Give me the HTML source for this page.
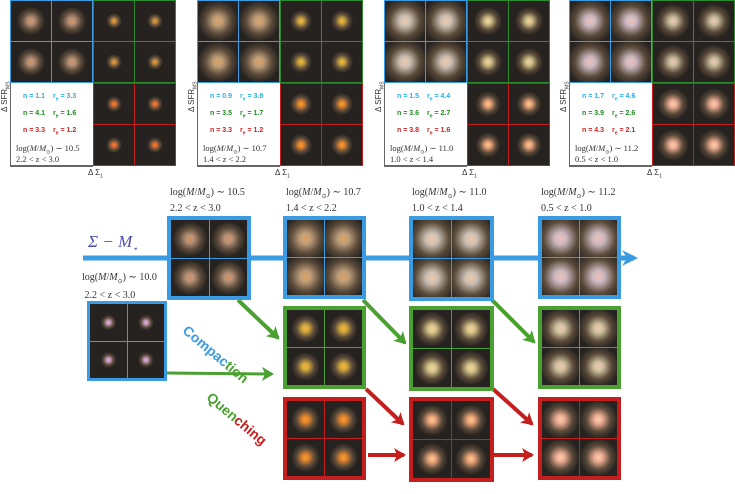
<!DOCTYPE html>
<html><head><meta charset="utf-8"><style>
body{margin:0;width:735px;height:494px;background:#fff;position:relative;overflow:hidden;font-family:"Liberation Sans",sans-serif}
.abs{position:absolute}
.cell{position:absolute;background:#25221f;overflow:hidden}
.serif{font-family:"Liberation Serif",serif;font-size:10px;color:#333;line-height:12px;white-space:nowrap}
.ylab{font-size:8px;color:#333;transform:rotate(-90deg);transform-origin:left top;white-space:nowrap}
.stat{font-size:7px;font-weight:bold;white-space:nowrap}
</style></head><body>
<svg id="arrows" class="abs" style="left:0;top:0" width="735" height="494">
<defs>
<marker id="mb" markerWidth="18" markerHeight="18" refX="12" refY="9" orient="auto" markerUnits="userSpaceOnUse"><path d="M0,1 L16,9 L0,17 L5,9 Z" fill="#3a9be2"/></marker>
<marker id="mg" markerWidth="14" markerHeight="14" refX="10" refY="7" orient="auto" markerUnits="userSpaceOnUse"><path d="M0,0 L12,7 L0,14 L3,7 Z" fill="#4aa030"/></marker>
<marker id="mr" markerWidth="14" markerHeight="14" refX="10" refY="7" orient="auto" markerUnits="userSpaceOnUse"><path d="M0,0 L12,7 L0,14 L3,7 Z" fill="#c41e1e"/></marker>
</defs>
<line x1="83" y1="258" x2="634" y2="258" stroke="#3a9be2" stroke-width="5" marker-end="url(#mb)"/>
<line x1="238" y1="300" x2="278" y2="338" stroke="#4aa030" stroke-width="4" marker-end="url(#mg)"/>
<line x1="363" y1="300" x2="405" y2="343" stroke="#4aa030" stroke-width="4" marker-end="url(#mg)"/>
<line x1="492" y1="300" x2="534" y2="342" stroke="#4aa030" stroke-width="4" marker-end="url(#mg)"/>
<line x1="166" y1="373" x2="272" y2="374" stroke="#4aa030" stroke-width="3" marker-end="url(#mg)"/>
<line x1="366" y1="389" x2="403" y2="424" stroke="#c41e1e" stroke-width="4" marker-end="url(#mr)"/>
<line x1="493" y1="389" x2="532" y2="424" stroke="#c41e1e" stroke-width="4" marker-end="url(#mr)"/>
<line x1="368" y1="455" x2="404" y2="455" stroke="#c41e1e" stroke-width="4" marker-end="url(#mr)"/>
<line x1="494" y1="455" x2="532" y2="455" stroke="#c41e1e" stroke-width="4" marker-end="url(#mr)"/>
</svg>
<div class="abs" style="left:88px;top:232px;font-family:'Liberation Serif',serif;font-style:italic;font-size:17px;color:#4d4db0">Σ − M<sub style="font-size:9px">⋆</sub></div>
<div class="abs" style="left:190px;top:322px;font-size:14px;font-weight:bold;transform:rotate(40deg);transform-origin:left top;color:#3a9be2;white-space:nowrap">Compac<span style="color:#4aa030">tion</span></div>
<div class="abs" style="left:214px;top:389px;font-size:14px;font-weight:bold;transform:rotate(40deg);transform-origin:left top;color:#4aa030;white-space:nowrap">Quen<span style="color:#c41e1e">ching</span></div>
<div id="root"></div>
<script>
const topX=[10,197,384,569];
const nVals=[["1.1","4.1","3.3"],["0.9","3.5","3.3"],["1.5","3.6","3.8"],["1.7","3.9","4.3"]];
const reVals=[["3.3","1.6","1.2"],["3.9","1.7","1.2"],["4.4","2.7","1.6"],["4.6","2.6","2.1"]];
const masses=["10.5","10.7","11.0","11.2"];
const zr=["2.2 < z < 3.0","1.4 < z < 2.2","1.0 < z < 1.4","0.5 < z < 1.0"];
const gcol=[["#d89060","#f09040","#f08030"],["#e0a060","#f8b040","#f0a030"],["#f0c8a8","#f8d0a0","#f8c890"],["#f0c0b8","#f0c8b8","#f8d0b0"]];
const gsize=[[9,5,5],[13,7,7],[15,9,8],[15,11,10]];
const C={b:"#3a9be2",g:"#2e8a2e",r:"#c41e1e"};
const root=document.getElementById('root');
function gal(parent,x,y,s,col,r){
 const c=document.createElement('div');
 
 
 c.className='cell';
 c.style.cssText+=`left:${x}px;top:${y}px;width:${s}px;height:${s}px;background:radial-gradient(circle at 50% 50%, ${col} 0, ${col}cc ${r*0.35}px, #5a4a3a ${r}px, #25221f ${r*1.6}px)`;
 parent.appendChild(c);
}
function grid(x,y,w,col,bw,gc,gr,name){
 const d=document.createElement('div');
 
 
 d.className='abs';
 d.style.cssText=`left:${x}px;top:${y}px;width:${w}px;height:${w}px;background:${col};`;
 root.appendChild(d);
 const inner=(w-2*bw-1)/2;
 for(let i=0;i<2;i++)for(let j=0;j<2;j++)
  gal(d,bw+j*(inner+1),bw+i*(inner+1),inner,gc,gr);
}
topX.forEach((x,p)=>{
 const q=83;
 grid(x,0,q,C.b,1,gcol[p][0],gsize[p][0],'sf-quadrant-'+(p+1));
 grid(x+q,0,q,C.g,1,gcol[p][1],gsize[p][1],'compact-sf-quadrant-'+(p+1));
 grid(x+q,q,q,C.r,1,gcol[p][2],gsize[p][2],'quiescent-quadrant-'+(p+1));
 const t=document.createElement('div');
 
 
 t.className='abs';
 t.style.cssText=`left:${x}px;top:${q}px;width:${q-1}px;height:${q-1}px;border-left:1px solid #666;border-bottom:2px solid #666;background:#fff;overflow:hidden`;
 const cols=['#1fb0e8','#1f8a1f','#d21f1f'];
 let h='';
 for(let k=0;k<3;k++){
  h+=`<div class="abs stat" style="left:12px;top:${10+k*17}px;color:${cols[k]}">n = ${nVals[p][k]}</div><div class="abs stat" style="left:42px;top:${10+k*17}px;color:${cols[k]}">r<sub style="font-size:5px">e</sub> = ${reVals[p][k]}</div>`;
 }
 h+=`<div class="abs serif" style="left:5px;top:60px;font-size:8.5px;line-height:10px">log(<i>M</i>/<i>M</i><sub style="font-size:5px;line-height:0">⊙</sub>) ∼ ${masses[p]}<br>${zr[p]}</div>`;
 t.innerHTML=h;root.appendChild(t);
 const yl=document.createElement('div');
 
 
 yl.className='abs ylab';yl.style.left=(x-10)+'px';yl.style.top='112px';
 yl.innerHTML='Δ SFR<sub style="font-size:5px">MS</sub>';root.appendChild(yl);
 const xl=document.createElement('div');
 
 
 xl.className='abs';xl.style.cssText=`left:${x+78}px;top:168px;font-size:8px;color:#333`;
 xl.innerHTML='Δ Σ<sub style="font-size:5px">1</sub>';root.appendChild(xl);
});
const bx=[167,283,409,538];
const bw=[84,83,85,83];
bx.forEach((x,p)=>{
 grid(x,216,bw[p],C.b,4,gcol[p][0],gsize[p][0]+2,'evolution-stage-'+(p+1));
 const l=document.createElement('div');
 
 
 l.className='abs serif';l.style.cssText+=`left:${x+3}px;top:187px`;
 l.innerHTML=`log(<i>M</i>/<i>M</i><sub style="font-size:6px">⊙</sub>) ∼ ${masses[p]}<br>${zr[p]}`;root.appendChild(l);
 if(p>0){
  grid(x,306,bw[p],'#4aa030',4,gcol[p][1],gsize[p][1]+2,'compact-stage-'+(p+1));
  grid(x,397,bw[p],C.r,4,gcol[p][2],gsize[p][2]+2,'quenched-stage-'+(p+1));
 }
});
grid(87,301,80,C.b,3,'#f0a0c0',5,'low-mass-stage');
const ll=document.createElement('div');


ll.className='abs serif';ll.style.cssText+='left:82px;top:271px;line-height:14px';
ll.innerHTML='log(<i>M</i>/<i>M</i><sub style="font-size:6px">⊙</sub>) ∼ 10.0<br>&nbsp;2.2 &lt; z &lt; 3.0';root.appendChild(ll);
</script>
</body></html>
